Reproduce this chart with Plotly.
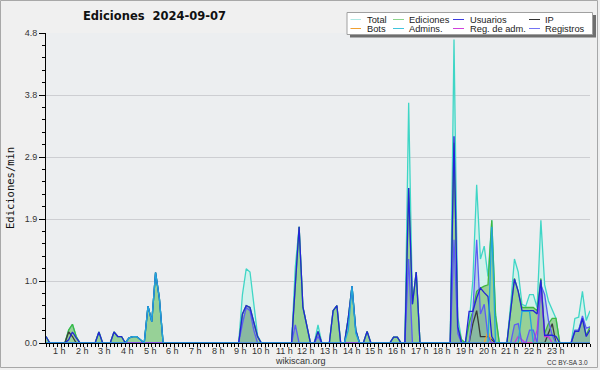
import plotly.graph_objects as go

# ---------------- data (10-minute slots, slot i = minute i*10) ----------------
N_SLOTS = 145
hour_labels = [f"{h} h" for h in range(1, 24)]
y_tick_vals = [0, 0.96, 1.92, 2.88, 3.84, 4.8]
y_tick_text = ["0.0", "1.0", "1.9", "2.9", "3.8", "4.8"]

total = {0: 0.1, 6: 0.2, 7: 0.29, 8: 0.1, 14: 0.17, 18: 0.17, 19: 0.1, 20: 0.1,
         22: 0.08, 23: 0.1, 24: 0.1, 25: 0.05, 27: 0.57, 28: 0.33, 29: 1.09, 30: 0.7,
         52: 0.75, 53: 1.15, 54: 1.1, 55: 0.6, 56: 0.12, 66: 1.18, 67: 1.8, 68: 0.56,
         69: 0.25, 72: 0.28, 76: 0.5, 77: 0.58, 80: 0.38, 81: 0.88, 82: 0.2, 85: 0.18,
         92: 0.09, 93: 0.09, 96: 3.72, 97: 0.6, 98: 1.1, 108: 4.7, 109: 0.4, 110: 0.05,
         112: 0.3, 113: 0.98, 114: 2.45, 115: 1.3, 116: 1.5, 117: 1.03, 118: 1.9,
         119: 0.45, 123: 0.6, 124: 1.3, 125: 1.1, 126: 0.6, 127: 0.57, 128: 0.75,
         129: 0.75, 130: 0.55, 131: 1.9, 132: 0.9, 133: 0.65, 134: 0.5, 135: 0.38,
         140: 0.38, 141: 0.4, 142: 0.8, 143: 0.35, 144: 0.5}

ediciones = {0: 0.1, 6: 0.2, 7: 0.29, 8: 0.1, 14: 0.17, 18: 0.17, 19: 0.1, 20: 0.1,
             22: 0.08, 23: 0.1, 24: 0.1, 25: 0.05, 27: 0.57, 28: 0.33, 29: 1.09, 30: 0.7,
             52: 0.45, 53: 0.58, 54: 0.55, 55: 0.3, 56: 0.1, 66: 0.9, 67: 1.8, 68: 0.56,
             69: 0.25, 72: 0.18, 76: 0.5, 77: 0.58, 80: 0.38, 81: 0.88, 82: 0.2, 85: 0.18,
             92: 0.09, 93: 0.09, 96: 2.4, 97: 0.6, 98: 1.1, 108: 3.1, 109: 0.25, 110: 0.05,
             112: 0.3, 113: 0.5, 114: 0.8, 115: 0.85, 116: 0.88, 117: 0.9, 118: 1.9,
             119: 0.42, 123: 0.5, 124: 1.0, 125: 0.8, 126: 0.55, 127: 0.55, 128: 0.55,
             129: 0.55, 130: 0.5, 131: 1.0, 132: 0.15, 133: 0.3, 134: 0.38, 135: 0.38,
             140: 0.18, 141: 0.2, 142: 0.38, 143: 0.12, 144: 0.25}

usuarios = {0: 0.1, 6: 0.05, 7: 0.17, 8: 0.08, 14: 0.17, 18: 0.17, 19: 0.1, 20: 0.1,
            22: 0.08, 23: 0.1, 24: 0.1, 25: 0.05, 27: 0.57, 28: 0.33, 29: 1.09, 30: 0.7,
            52: 0.45, 53: 0.58, 54: 0.55, 55: 0.3, 56: 0.1, 66: 0.9, 67: 1.8, 68: 0.56,
            69: 0.25, 72: 0.18, 76: 0.5, 77: 0.58, 80: 0.38, 81: 0.88, 82: 0.2, 85: 0.18,
            92: 0.09, 93: 0.09, 96: 2.4, 97: 0.6, 98: 1.1, 108: 3.2, 109: 0.25,
            112: 0.49, 113: 0.49, 114: 0.7, 115: 0.85, 116: 0.78, 117: 0.72, 118: 0.1,
            123: 0.5, 124: 0.99, 125: 0.8, 126: 0.5, 127: 0.5, 128: 0.5, 129: 0.5,
            130: 0.45, 131: 0.98, 132: 0.12, 133: 0.12, 134: 0.12, 135: 0.1,
            140: 0.18, 141: 0.18, 142: 0.38, 143: 0.1, 144: 0.2}

ip = {6: 0.17, 7: 0.1, 113: 0.3, 114: 0.5, 115: 0.1, 116: 0.1, 117: 0.1, 118: 0.05,
      133: 0.15, 134: 0.3}

bots = {117: 0.18}

admins = {22: 0.08, 23: 0.1, 24: 0.1, 25: 0.05, 27: 0.57, 28: 0.33, 29: 1.09, 30: 0.7,
          80: 0.2, 81: 0.88, 82: 0.15, 118: 1.8, 126: 0.49, 127: 0.49, 128: 0.49}

reg_adm = {125: 0.1, 126: 0.05, 130: 0.2, 131: 0.9, 132: 0.1, 133: 0.1}

registros = {52: 0.3, 53: 0.55, 54: 0.5, 55: 0.2, 66: 0.28, 72: 0.1, 96: 1.3,
             108: 1.6, 109: 0.15, 113: 0.48, 114: 1.6, 115: 0.45, 116: 0.6, 117: 0.1,
             124: 0.28, 125: 0.3, 128: 0.2, 129: 0.2, 131: 0.9, 132: 0.75, 133: 0.35,
             134: 0.12, 140: 0.2, 141: 0.2, 142: 0.42, 143: 0.23, 144: 0.25}

# ---------------- build ----------------
minutes = [i * 10 for i in range(N_SLOTS)]


def series(d):
    return [d.get(i, 0.0) for i in range(N_SLOTS)]


L, R_, T, B = 46, 10, 33, 27
W, H = 600, 370
PW, PH = W - L - R_, H - T - B


def px(x):
    return (x - L) / PW


def py(y):
    return (H - B - y) / PH


fig = go.Figure()

# fills
fig.add_trace(go.Scatter(x=minutes, y=series(total), mode="lines", line=dict(width=0),
                         fill="tozeroy", fillcolor="#d3f1ec", hoverinfo="skip",
                         showlegend=False))
fig.add_trace(go.Scatter(x=minutes, y=series(ediciones), mode="lines", line=dict(width=0),
                         fill="tozeroy", fillcolor="#97d197", hoverinfo="skip",
                         showlegend=False))
fig.add_trace(go.Scatter(x=minutes, y=series(registros), mode="lines", line=dict(width=0),
                         fill="tozeroy", fillcolor="rgba(90,100,200,0.22)",
                         hoverinfo="skip", showlegend=False))

# lines
line_specs = [
    (total, "#3fd6c6"),
    (ediciones, "#3fb83f"),
    (ip, "#3a3a3a"),
    (bots, "#f0a030"),
    (reg_adm, "#cc33dd"),
    (registros, "#5c5cf4"),
    (usuarios, "#2424d8"),
    (admins, "#22a6dc"),
]
for d, c in line_specs:
    fig.add_trace(go.Scatter(x=minutes, y=series(d), mode="lines",
                             line=dict(color=c, width=1.3), hoverinfo="skip",
                             showlegend=False))

# ---------------- decorations ----------------
shapes = []
annotations = []

# outer frame
shapes.append(dict(type="rect", xref="paper", yref="paper",
                   x0=px(0.5), x1=px(597.5), y0=py(0.5), y1=py(367.5),
                   line=dict(color="#a8a8a8", width=1), fillcolor="rgba(0,0,0,0)"))

# legend box with shadow
shapes.append(dict(type="rect", xref="paper", yref="paper",
                   x0=px(350), x1=px(596), y0=py(15), y1=py(37.5),
                   line=dict(width=0), fillcolor="#6e6e6e"))
shapes.append(dict(type="rect", xref="paper", yref="paper",
                   x0=px(347), x1=px(592.5), y0=py(12.5), y1=py(34.5),
                   line=dict(color="#a0a0a0", width=1), fillcolor="#ffffff"))

legend_items = [
    ("Total", "#aee8e4"), ("Ediciones", "#8cd48c"), ("Usuarios", "#3c3ce0"), ("IP", "#333333"),
    ("Bots", "#f0a030"), ("Admins.", "#40c4dc"), ("Reg. de adm.", "#d040dc"), ("Registros", "#7474f4"),
]
col_x = [(350.5, 361, 365.5), (393, 404, 407.5), (453, 464, 468.5), (529, 540, 544)]
row_y = [19.5, 28.5]
for k, (name, color) in enumerate(legend_items):
    r, c = divmod(k, 4)
    x0, x1, xt = col_x[c]
    yy = row_y[r]
    shapes.append(dict(type="line", xref="paper", yref="paper",
                       x0=px(x0), x1=px(x1), y0=py(yy), y1=py(yy),
                       line=dict(color=color, width=1)))
    annotations.append(dict(text=name, xref="paper", yref="paper", x=px(xt), y=py(yy),
                            xanchor="left", yanchor="middle", showarrow=False,
                            borderpad=0,
                            font=dict(family="Liberation Sans", size=9.3, color="#222")))

# title
annotations.append(dict(text="<b>Ediciones  2024-09-07</b>", xref="paper", yref="paper",
                        x=px(154), y=py(16), xanchor="center", yanchor="middle",
                        showarrow=False,
                        font=dict(family="DejaVu Sans", size=11.5, color="#111")))
# y title
annotations.append(dict(text="Ediciones/min", xref="paper", yref="paper",
                        x=px(10), y=py(188), xanchor="center", yanchor="middle",
                        textangle=-90, showarrow=False,
                        font=dict(family="DejaVu Sans Mono", size=10.5, color="#111")))
# hour labels
for h, lab in enumerate(hour_labels, start=1):
    annotations.append(dict(text=lab, xref="x", yref="paper", x=h * 60 - 1.5,
                            y=py(350.5), xanchor="right", yanchor="middle",
                            showarrow=False,
                            font=dict(family="Liberation Sans", size=9, color="#333")))
# footer
annotations.append(dict(text="wikiscan.org", xref="paper", yref="paper",
                        x=px(300), y=py(361), xanchor="center", yanchor="middle",
                        showarrow=False,
                        font=dict(family="Liberation Sans", size=9, color="#333")))
annotations.append(dict(text="CC BY-SA 3.0", xref="paper", yref="paper",
                        x=px(589.5), y=py(362.5), xanchor="right", yanchor="middle",
                        showarrow=False,
                        font=dict(family="Liberation Sans", size=6.5, color="#333")))

fig.update_layout(
    width=W, height=H, autosize=False,
    margin=dict(l=L, r=R_, t=T, b=B, pad=0),
    paper_bgcolor="#f0f0f0", plot_bgcolor="#eceef0",
    showlegend=False,
    shapes=shapes, annotations=annotations,
    xaxis=dict(range=[0, 1440], showgrid=False, zeroline=False,
               showline=True, linecolor="#000", linewidth=1,
               ticks="outside", tickmode="linear", tick0=0, dtick=10,
               ticklen=3, tickcolor="#000", tickwidth=1,
               showticklabels=False, fixedrange=True),
    yaxis=dict(range=[0, 4.8], showgrid=True, gridcolor="#cdced2", gridwidth=1,
               zeroline=False, showline=True, linecolor="#000", linewidth=1,
               ticks="outside", tickmode="array", tickvals=y_tick_vals,
               ticktext=y_tick_text, ticklen=6, tickcolor="#000", tickwidth=1,
               tickfont=dict(family="Liberation Sans", size=9, color="#333"),
               minor=dict(tickmode="linear", tick0=0, dtick=0.192, ticks="outside",
                          ticklen=3, tickcolor="#000", showgrid=False),
               fixedrange=True),
)

fig.write_html("out.html", config={"displayModeBar": False, "staticPlot": True},
               post_script="document.body.style.margin='0';document.body.style.overflow='hidden';")
